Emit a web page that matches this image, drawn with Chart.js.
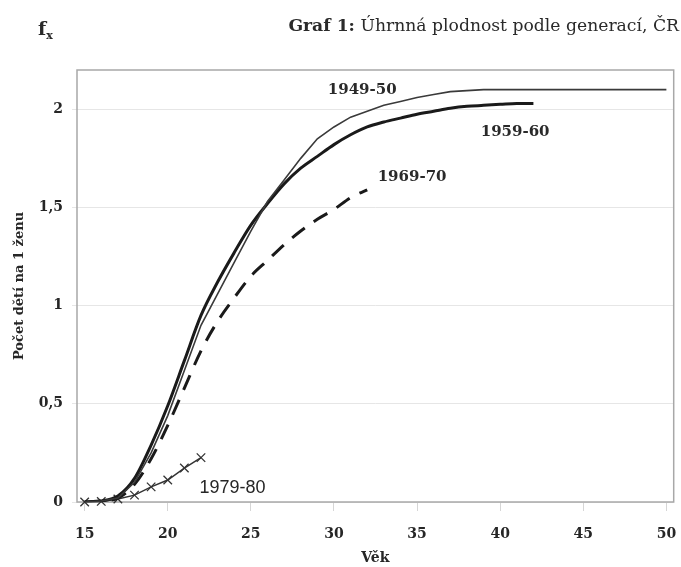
<!DOCTYPE html>
<html lang="cs">
<head>
<meta charset="utf-8">
<script src="https://cdn.jsdelivr.net/npm/chart.js@4.4.1/dist/chart.umd.min.js"></script>
<style>
  html, body { margin: 0; padding: 0; background: #ffffff; }
  #wrap { position: relative; width: 681px; height: 567px; overflow: hidden; }
  #c { position: absolute; left: 0; top: 0; }
  #fx { position: absolute; left: 38px; top: 17px; font-family: 'DejaVu Serif', serif; font-weight: bold; font-size: 19px; color: #2a2a2a; }
  #fx sub { font-size: 11px; vertical-align: -4px; }
  #title { position: absolute; right: 2px; top: 15px; font-family: 'DejaVu Serif', serif; font-size: 17.2px; color: #2a2a2a; white-space: nowrap; }
</style>
</head>
<body>
<div id="wrap">
  <canvas id="c" width="681" height="567"></canvas>
  <div id="fx">f<sub>x</sub></div>
  <div id="title"><b>Graf 1:</b> Úhrnná plodnost podle generací, ČR</div>
</div>
<script>
// ---- data ----
const ages = [15,16,17,18,19,20,21,22,23,24,25,26,27,28,29,30,31,32,33,34,35,36,37,38,39,40,41,42,43,44,45,46,47,48,49,50];
const seriesNames = ['1949-50', '1959-60', '1969-70', '1979-80'];
const gen1949 = [0.00,0.005,0.02,0.10,0.25,0.44,0.67,0.90,1.06,1.22,1.38,1.53,1.64,1.75,1.85,1.91,1.96,1.99,2.02,2.04,2.06,2.075,2.09,2.095,2.10,2.10,2.10,2.10,2.10,2.10,2.10,2.10,2.10,2.10,2.10,2.10];
const gen1959 = [0.00,0.005,0.03,0.12,0.29,0.49,0.72,0.95,1.12,1.27,1.41,1.52,1.62,1.70,1.76,1.82,1.87,1.91,1.935,1.955,1.975,1.99,2.005,2.015,2.02,2.025,2.03,2.03];
const gen1969 = [0.00,0.005,0.02,0.09,0.22,0.39,0.58,0.77,0.92,1.04,1.15,1.23,1.31,1.38,1.44,1.49,1.55,1.59];
const gen1979 = [0.00,0.003,0.015,0.035,0.077,0.112,0.173,0.226];
const xTicks = [15,20,25,30,35,40,45,50];
const yTicks = [0,0.5,1,1.5,2];
const xTitle = 'Věk';
const yTitle = 'Počet dětí na 1 ženu';

// label anchor points (age, value) for the series names
const labelAnchors = [
  { text: '1949-50', x: 31.7, y: 2.097, serif: true },
  { text: '1959-60', x: 40.9, y: 1.883, serif: true },
  { text: '1969-70', x: 34.7, y: 1.653, serif: true },
  { text: '1979-80', x: 23.9, y: 0.071, serif: false }
];

const toPoints = vals => vals.map((v, i) => ({ x: ages[i], y: v }));

const frame = {
  id: 'frame',
  beforeDatasetsDraw(chart) {
    const { ctx, chartArea: a } = chart;
    ctx.save();
    ctx.strokeStyle = '#a8a8a8';
    ctx.lineWidth = 1.5;
    ctx.strokeRect(a.left, a.top, a.right - a.left, a.bottom - a.top);
    ctx.restore();
  },
  afterDatasetsDraw(chart) {
    const { ctx, scales } = chart;
    ctx.save();
    ctx.textAlign = 'center';
    ctx.textBaseline = 'middle';
    labelAnchors.forEach(l => {
      const px = scales.x.getPixelForValue(l.x);
      const py = scales.y.getPixelForValue(l.y);
      if (l.serif) {
        ctx.font = "bold 15px 'DejaVu Serif'";
        ctx.fillStyle = '#2a2a2a';
      } else {
        ctx.font = "18px 'Liberation Sans'";
        ctx.fillStyle = '#262626';
      }
      ctx.fillText(l.text, px, py);
    });
    ctx.restore();
  }
};

const serifBold = (size) => ({ family: "'DejaVu Serif'", weight: 'bold', size });

new Chart(document.getElementById('c'), {
  type: 'line',
  data: {
    datasets: [
      {
        label: seriesNames[0], data: toPoints(gen1949),
        borderColor: '#3a3a3a', borderWidth: 1.6, pointRadius: 0, tension: 0, fill: false
      },
      {
        label: seriesNames[1], data: toPoints(gen1959),
        borderColor: '#1a1a1a', borderWidth: 3, pointRadius: 0, cubicInterpolationMode: 'monotone', fill: false
      },
      {
        label: seriesNames[2], data: toPoints(gen1969),
        borderColor: '#1a1a1a', borderWidth: 3, borderDash: [16, 11], pointRadius: 0, cubicInterpolationMode: 'monotone', fill: false
      },
      {
        label: seriesNames[3], data: toPoints(gen1979),
        borderColor: '#333333', borderWidth: 1.5, pointStyle: 'crossRot', pointRadius: 6,
        pointBorderWidth: 1.3, pointBorderColor: '#333333', tension: 0, fill: false, clip: false
      }
    ]
  },
  options: {
    responsive: false,
    animation: false,
    devicePixelRatio: 1,
    layout: { padding: { left: 0, top: 70, right: 6, bottom: 0 } },
    plugins: { legend: { display: false }, tooltip: { enabled: false }, title: { display: false } },
    scales: {
      x: {
        type: 'linear', min: 14.54, max: 50.44,
        afterBuildTicks: s => { s.ticks = xTicks.map(v => ({ value: v })); },
        afterFit: s => { s.height = 65; s.paddingLeft = 0; s.paddingRight = 0; },
        grid: { drawOnChartArea: false, color: '#d6d6d6', tickLength: 9, lineWidth: 1 },
        border: { display: false },
        ticks: { padding: 15, maxRotation: 0, autoSkip: false, color: '#262626', font: serifBold(14) },
        title: { display: true, text: xTitle, color: '#262626', font: serifBold(14), padding: { top: 0, bottom: 0 } }
      },
      y: {
        type: 'linear', min: 0, max: 2.2,
        afterBuildTicks: s => { s.ticks = yTicks.map(v => ({ value: v })); },
        afterFit: s => { s.width = 77; s.paddingTop = 0; s.paddingBottom = 0; },
        grid: { color: '#e6e6e6', tickLength: 5, lineWidth: 1 },
        border: { display: false },
        ticks: { padding: 9, color: '#262626', font: serifBold(14), callback: v => String(v).replace('.', ',') },
        title: { display: true, text: yTitle, color: '#262626', font: serifBold(13), padding: { top: 12, bottom: 0 } }
      }
    }
  },
  plugins: [frame]
});
</script>
</body>
</html>
